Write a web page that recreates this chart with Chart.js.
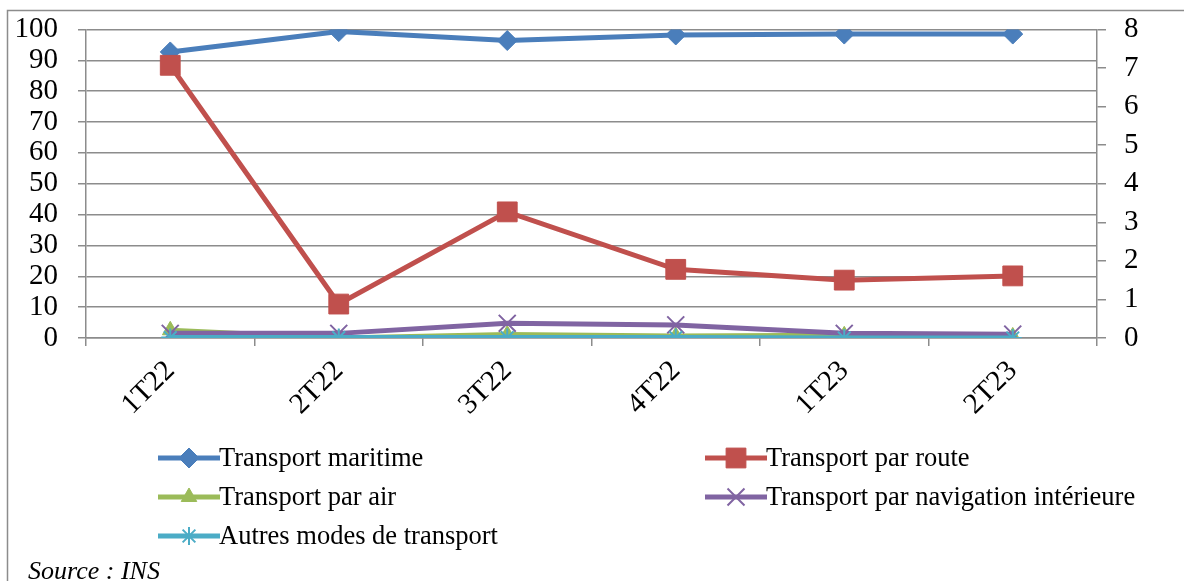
<!DOCTYPE html>
<html>
<head>
<meta charset="utf-8">
<script src="https://cdn.jsdelivr.net/npm/chart.js@4/dist/chart.umd.min.js"></script>
<style>
  html, body { margin: 0; padding: 0; background: #fff; }
  #wrap { width: 1184px; height: 581px; position: relative; }
  .probe { position: absolute; left: -9999px; top: 0; font-family: "Liberation Serif"; }
</style>
</head>
<body>
<div class="probe">Transport 0123456789 <i>Source</i></div>
<div id="wrap"><canvas id="c" width="1184" height="581"></canvas></div>
<script>
// quarters on the x axis
const quarters = ["1T22", "2T22", "3T22", "4T22", "1T23", "2T23"];

// left axis (%)
const maritime = [92.7, 99.3, 96.4, 98.2, 98.5, 98.5];

// right axis (%)
const route = [7.07, 0.88, 3.27, 1.78, 1.5, 1.61];
const air = [0.2, 0.0, 0.09, 0.05, 0.07, 0.04];
const navigation = [0.12, 0.12, 0.38, 0.34, 0.12, 0.1];
const autres = [0.01, 0.01, 0.01, 0.01, 0.0, 0.0];

const leftTicks = { min: 0, max: 100, step: 10 };
const rightTicks = { min: 0, max: 8, step: 1 };

const GRID = "#8c8c8c";
const FONT = "'Liberation Serif', 'DejaVu Serif', serif";

// frame around the whole figure
const framePlugin = {
  id: "frame",
  beforeDraw(chart) {
    const ctx = chart.ctx;
    ctx.save();
    ctx.strokeStyle = GRID;
    ctx.lineWidth = 1.5;
    ctx.strokeRect(7.5, 10.5, 1300, 700);
    ctx.restore();
  }
};

// two-column legend under the axis, plus the source line
const legendPlugin = {
  id: "legendTwoCols",
  afterDraw(chart) {
    const ctx = chart.ctx;
    const cols = [158, 705];
    const rows = [458, 497, 536];
    ctx.save();
    chart.data.datasets.forEach((ds, i) => {
      const x0 = cols[i % 2];
      const y = rows[Math.floor(i / 2)];
      ctx.strokeStyle = ds.borderColor;
      ctx.lineWidth = 5;
      ctx.beginPath();
      ctx.moveTo(x0, y);
      ctx.lineTo(x0 + 62, y);
      ctx.stroke();
      ctx.fillStyle = ds.pointBackgroundColor;
      ctx.strokeStyle = ds.pointBorderColor;
      ctx.lineWidth = ds.pointBorderWidth;
      Chart.helpers.drawPoint(ctx, {
        pointStyle: ds.pointStyle,
        radius: ds.pointRadius,
        rotation: 0,
        borderWidth: ds.pointBorderWidth
      }, x0 + 31, y);
      ctx.fillStyle = "#000";
      ctx.font = "26.5px " + FONT;
      ctx.textBaseline = "middle";
      ctx.textAlign = "left";
      ctx.fillText(ds.label, x0 + 61, y + 1);
    });
    ctx.font = "italic 26px " + FONT;
    ctx.fillText("Source : INS", 28, 572);
    ctx.restore();
  }
};

const makeSet = (label, data, color, style, radius, axis, order, bw) => ({
  label: label,
  data: data,
  yAxisID: axis,
  order: order,
  borderColor: color,
  backgroundColor: color,
  borderWidth: 5,
  pointStyle: style,
  pointRadius: radius,
  pointHoverRadius: radius,
  pointBackgroundColor: color,
  pointBorderColor: color,
  pointBorderWidth: bw,
  tension: 0
});

function draw() {
  new Chart(document.getElementById("c"), {
    type: "line",
    data: {
      labels: quarters,
      datasets: [
        makeSet("Transport maritime", maritime, "#4a7ebb", "rectRot", 10, "y", 5, 1),
        makeSet("Transport par route", route, "#c0504d", "rect", 14, "y1", 4, 1),
        makeSet("Transport par air", air, "#9bbb59", "triangle", 9, "y1", 3, 1),
        makeSet("Transport par navigation intérieure", navigation, "#8064a2", "crossRot", 12, "y1", 2, 2),
        makeSet("Autres modes de transport", autres, "#4bacc6", "star", 9, "y1", 1, 2)
      ]
    },
    options: {
      responsive: false,
      animation: false,
      layout: { padding: { top: 29, left: 0, right: 0, bottom: 0 } },
      plugins: { legend: { display: false }, tooltip: { enabled: false } },
      scales: {
        x: {
          type: "category",
          offset: true,
          grid: { offset: true, drawOnChartArea: false, drawTicks: true, tickLength: 8, color: GRID, lineWidth: 1.5 },
          border: { color: GRID, width: 1.5 },
          ticks: { color: "#000", font: { family: FONT, size: 29 }, maxRotation: 45, minRotation: 45, padding: 8, autoSkip: false },
          afterFit(scale) { scale.height = 581 - 338; }
        },
        y: {
          position: "left",
          min: leftTicks.min,
          max: leftTicks.max,
          grid: { color: GRID, lineWidth: 1.5, tickLength: 8 },
          border: { color: GRID, width: 1.5 },
          ticks: { stepSize: leftTicks.step, autoSkip: false, color: "#000", font: { family: FONT, size: 29, lineHeight: 0.65 }, padding: 20 },
          afterFit(scale) { scale.width = 86; }
        },
        y1: {
          position: "right",
          min: rightTicks.min,
          max: rightTicks.max,
          grid: { drawOnChartArea: false, color: GRID, lineWidth: 1.5, tickLength: 9 },
          border: { color: GRID, width: 1.5 },
          ticks: { stepSize: rightTicks.step, autoSkip: false, color: "#000", font: { family: FONT, size: 29, lineHeight: 0.65 }, padding: 18 },
          afterFit(scale) { scale.width = 1184 - 1097; }
        }
      }
    },
    plugins: [framePlugin, legendPlugin]
  });
}

if (document.fonts && document.fonts.load) {
  Promise.all([
    document.fonts.load("29px 'Liberation Serif'"),
    document.fonts.load("italic 24px 'Liberation Serif'")
  ]).then(draw, draw);
} else {
  draw();
}
</script>
</body>
</html>
